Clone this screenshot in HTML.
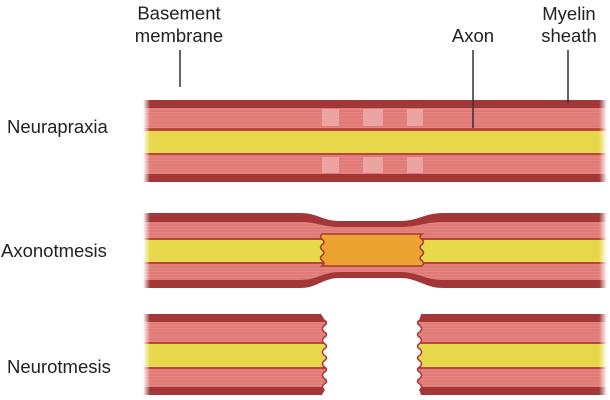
<!DOCTYPE html>
<html>
<head>
<meta charset="utf-8">
<style>
  html,body{margin:0;padding:0;background:#fff;}
  svg{display:block;}
  text{font-family:"Liberation Sans",Arial,sans-serif;font-size:18.5px;fill:#222;}
</style>
</head>
<body>
<svg width="610" height="400" viewBox="0 0 610 400" xmlns="http://www.w3.org/2000/svg">
  <defs>
    <linearGradient id="fade" gradientUnits="userSpaceOnUse" x1="143" y1="0" x2="607" y2="0">
      <stop offset="0" stop-color="#000"/>
      <stop offset="0.015" stop-color="#fff"/>
      <stop offset="0.983" stop-color="#fff"/>
      <stop offset="1" stop-color="#000"/>
    </linearGradient>
    <mask id="m" maskUnits="userSpaceOnUse" x="0" y="0" width="610" height="400">
      <rect x="0" y="0" width="610" height="400" fill="url(#fade)"/>
    </mask>
    <pattern id="stripe" patternUnits="userSpaceOnUse" width="10" height="3">
      <rect width="10" height="3" fill="#e07b78"/>
      <rect y="1" width="10" height="1" fill="#e38581"/>
    </pattern>
    <clipPath id="leftPiece">
      <path d="M140,314 H320 L324,320 q5,2.92 0,5.83 q-3,2.92 0,5.83 q5,2.92 0,5.83 q-3,2.92 0,5.83 q5,2.92 0,5.83 q-3,2.92 0,5.83 q5,2.92 0,5.83 q-3,2.92 0,5.83 q5,2.92 0,5.83 q-3,2.92 0,5.83 q5,2.92 0,5.83 q-3,2.92 0,5.83 L321,395 H140 Z"/>
    </clipPath>
    <clipPath id="rightPiece">
      <path d="M610,314 H422 L420,320 q-5,2.92 0,5.83 q3,2.92 0,5.83 q-5,2.92 0,5.83 q3,2.92 0,5.83 q-5,2.92 0,5.83 q3,2.92 0,5.83 q-5,2.92 0,5.83 q3,2.92 0,5.83 q-5,2.92 0,5.83 q3,2.92 0,5.83 q-5,2.92 0,5.83 q3,2.92 0,5.83 L422,395 H610 Z"/>
    </clipPath>
  </defs>

  <!-- Labels -->
  <text x="179" y="19.5" text-anchor="middle">Basement</text>
  <text x="179" y="42" text-anchor="middle">membrane</text>
  <text x="473" y="42" text-anchor="middle">Axon</text>
  <text x="569" y="20" text-anchor="middle">Myelin</text>
  <text x="569" y="42" text-anchor="middle">sheath</text>
  <text x="7" y="133">Neurapraxia</text>
  <text x="1" y="257">Axonotmesis</text>
  <text x="7" y="373">Neurotmesis</text>

  <!-- Neurapraxia -->
  <g mask="url(#m)">
    <rect x="140" y="100" width="470" height="82" fill="#a33737"/>
    <rect x="140" y="108" width="470" height="66" fill="url(#stripe)"/>
    <rect x="140" y="128" width="470" height="27" fill="#b9453d"/>
    <rect x="140" y="131" width="470" height="22" fill="#e7d84b"/>
    <rect x="322" y="109" width="17" height="17" fill="#eca4a3"/>
    <rect x="363" y="109" width="20" height="17" fill="#eca4a3"/>
    <rect x="407" y="109" width="16" height="17" fill="#eca4a3"/>
    <rect x="322" y="157" width="17" height="16" fill="#eca4a3"/>
    <rect x="363" y="157" width="20" height="16" fill="#eca4a3"/>
    <rect x="407" y="157" width="16" height="16" fill="#eca4a3"/>
  </g>

  <!-- Axonotmesis -->
  <g mask="url(#m)">
    <path d="M140,213 H300 C318,213 322,221 340,221 H400 C418,221 425,213 443,213 H610 V288 H443 C425,288 418,278 400,278 H340 C322,278 318,288 300,288 H140 Z" fill="#a33737"/>
    <path d="M140,222 H300 C318,222 322,227 340,227 H400 C418,227 425,222 443,222 H610 V280 H443 C425,280 418,272 400,272 H340 C322,272 318,280 300,280 H140 Z" fill="url(#stripe)"/>
    <rect x="140" y="238" width="470" height="26" fill="#b9453d"/>
    <rect x="140" y="240" width="470" height="22" fill="#e7d84b"/>
  </g>
  <path d="M322,234 H422 q-4,2.67 0,5.33 q3,2.67 0,5.33 q-4,2.67 0,5.33 q3,2.67 0,5.33 q-4,2.67 0,5.33 q3,2.67 0,5.33 H322 q4,-2.67 0,-5.33 q-3,-2.67 0,-5.33 q4,-2.67 0,-5.33 q-3,-2.67 0,-5.33 q4,-2.67 0,-5.33 q-3,-2.67 0,-5.33 Z" fill="#eca331" stroke="#a93a30" stroke-width="1.5"/>

  <!-- Neurotmesis pieces -->
  <g mask="url(#m)">
    <g clip-path="url(#leftPiece)">
      <rect x="140" y="314" width="200" height="81" fill="#a33737"/>
      <rect x="140" y="322" width="200" height="65" fill="url(#stripe)"/>
      <rect x="140" y="342" width="200" height="27" fill="#b9453d"/>
      <rect x="140" y="344" width="200" height="23" fill="#e7d84b"/>
    </g>
    <g clip-path="url(#rightPiece)">
      <rect x="410" y="314" width="200" height="81" fill="#a33737"/>
      <rect x="410" y="322" width="200" height="65" fill="url(#stripe)"/>
      <rect x="410" y="342" width="200" height="27" fill="#b9453d"/>
      <rect x="410" y="344" width="200" height="23" fill="#e7d84b"/>
    </g>
  </g>
  <path d="M320,314 L324,320 q5,2.92 0,5.83 q-3,2.92 0,5.83 q5,2.92 0,5.83 q-3,2.92 0,5.83 q5,2.92 0,5.83 q-3,2.92 0,5.83 q5,2.92 0,5.83 q-3,2.92 0,5.83 q5,2.92 0,5.83 q-3,2.92 0,5.83 q5,2.92 0,5.83 q-3,2.92 0,5.83 L321,395" fill="none" stroke="#a33737" stroke-width="1.5"/>
  <path d="M422,314 L420,320 q-5,2.92 0,5.83 q3,2.92 0,5.83 q-5,2.92 0,5.83 q3,2.92 0,5.83 q-5,2.92 0,5.83 q3,2.92 0,5.83 q-5,2.92 0,5.83 q3,2.92 0,5.83 q-5,2.92 0,5.83 q3,2.92 0,5.83 q-5,2.92 0,5.83 q3,2.92 0,5.83 L422,395" fill="none" stroke="#a33737" stroke-width="1.5"/>

  <!-- Leader lines -->
  <line x1="180" y1="50" x2="180" y2="87" stroke="#333" stroke-width="1.5"/>
  <line x1="473" y1="50" x2="473" y2="128" stroke="#333" stroke-width="1.5"/>
  <line x1="568" y1="50" x2="568" y2="103" stroke="#333" stroke-width="1.5"/>
</svg>
</body>
</html>
